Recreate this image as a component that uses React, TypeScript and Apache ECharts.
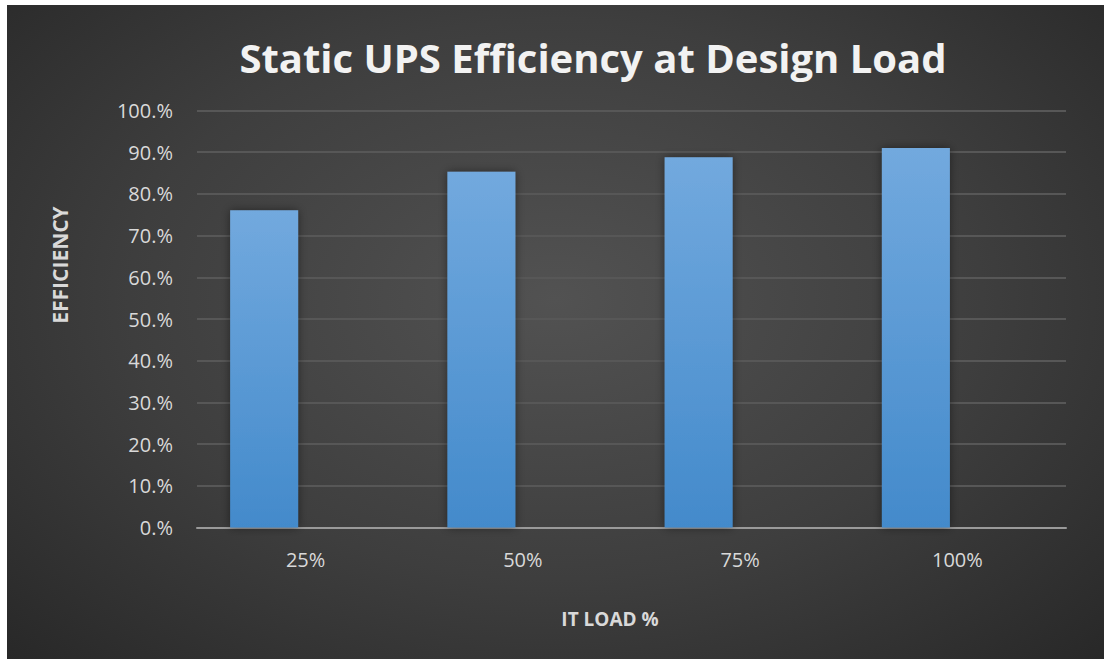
import React, { useEffect, useRef } from "react";
import * as echarts from "echarts";

const categories = ["25%", "50%", "75%", "100%"];
const efficiency = [0.761, 0.853, 0.888, 0.91];
const emptySeries = [null, null, null, null];
const titleText = "Static UPS Efficiency at Design Load";
const yAxisTitle = "EFFICIENCY";
const xAxisTitle = "IT LOAD %";

export default function App() {
  const ref = useRef<HTMLDivElement>(null);
  useEffect(() => {
    document.body.style.margin = "0";
    const chart = echarts.init(ref.current!, null, { renderer: "svg" });
    chart.setOption({
      animation: false,
      grid: { left: 190, right: 38, top: 105.5, bottom: 131.5, containLabel: false },
      graphic: [
        {
          type: "text",
          x: 586,
          y: 52,
          style: {
            text: titleText,
            fill: "#f2f2f2",
            font: "bold 40px 'Open Sans'",
            textAlign: "center",
            textVerticalAlign: "middle",
            shadowBlur: 4,
            shadowColor: "rgba(0,0,0,0.6)",
            shadowOffsetX: 1,
            shadowOffsetY: 2,
          },
        },
        {
          type: "text",
          x: 53,
          y: 260,
          rotation: Math.PI / 2,
          style: {
            text: yAxisTitle,
            fill: "#d9d9d9",
            font: "bold 21px 'Open Sans'",
            textAlign: "center",
            textVerticalAlign: "middle",
          },
        },
        {
          type: "text",
          x: 603,
          y: 614,
          style: {
            text: xAxisTitle,
            fill: "#d9d9d9",
            font: "bold 19px 'Open Sans'",
            textAlign: "center",
            textVerticalAlign: "middle",
          },
        },
      ],
      xAxis: {
        type: "category",
        data: categories,
        axisLine: { lineStyle: { color: "#9a9a9a", width: 2 } },
        axisTick: { show: false },
        axisLabel: { color: "#d9d9d9", fontSize: 20, fontFamily: "Open Sans", margin: 22 },
      },
      yAxis: {
        type: "value",
        min: 0,
        max: 1,
        interval: 0.1,
        axisLine: { show: false },
        axisTick: { show: false },
        splitLine: { lineStyle: { color: "#575757", width: 2 } },
        axisLabel: {
          color: "#d9d9d9",
          fontSize: 20,
          fontFamily: "Open Sans",
          margin: 24,
          formatter: (v: number) => `${Math.round(v * 100)}.%`,
        },
      },
      series: [
        {
          type: "bar",
          data: efficiency,
          barWidth: 68,
          barGap: "22%",
          itemStyle: {
            color: new echarts.graphic.LinearGradient(0, 0, 0, 1, [
              { offset: 0, color: "#72a9de" },
              { offset: 1, color: "#438acb" },
            ]),
            shadowBlur: 10,
            shadowColor: "rgba(0,0,0,0.45)",
          },
        },
        { type: "bar", data: emptySeries, barWidth: 68 },
      ],
    });
    return () => chart.dispose();
  }, []);
  return (
    <div style={{ width: 1104, height: 659, background: "#ffffff", position: "relative" }}>
      <div
        style={{
          position: "absolute",
          left: 7,
          top: 5,
          width: 1097,
          height: 654,
          background: "radial-gradient(ellipse at 50% 45%, #525252 0%, #3e3e3e 55%, #282828 100%)",
        }}
      >
        <div ref={ref} style={{ width: 1097, height: 654 }} />
      </div>
    </div>
  );
}
